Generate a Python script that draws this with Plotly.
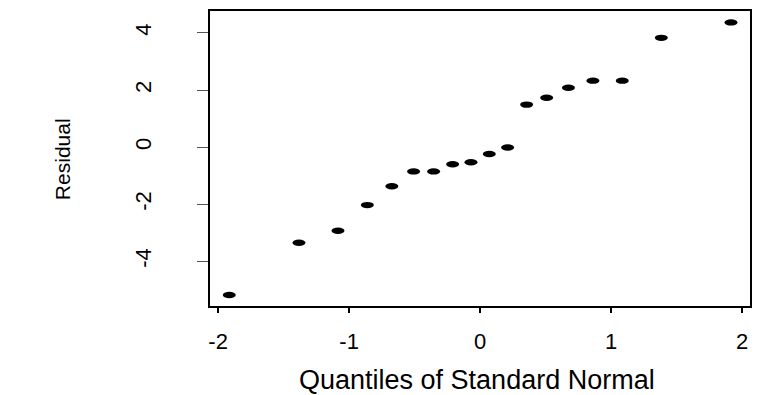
import plotly.graph_objects as go

# Theoretical quantiles of standard normal (x) and residuals (y)
quantiles = [-1.915, -1.383, -1.085, -0.861, -0.674, -0.508, -0.355, -0.210, -0.070,
             0.070, 0.210, 0.355, 0.508, 0.674, 0.861, 1.085, 1.383, 1.915]
residuals = [-5.18, -3.35, -2.93, -2.03, -1.37, -0.85, -0.85, -0.60, -0.53,
             -0.24, -0.01, 1.49, 1.73, 2.08, 2.33, 2.33, 3.83, 4.37]
x_ticks = [-2, -1, 0, 1, 2]
y_ticks = [-4, -2, 0, 2, 4]

FONT = "Liberation Sans, Arial, Helvetica, sans-serif"

fig = go.Figure()
fig.add_trace(go.Scatter(x=quantiles, y=residuals, mode="markers",
                         marker=dict(size=6, color="black", opacity=0),
                         showlegend=False, hoverinfo="x+y"))

# elliptical point markers (pixel-sized, anchored at data coordinates)
for qx, ry in zip(quantiles, residuals):
    fig.add_shape(type="circle", xref="x", yref="y",
                  xsizemode="pixel", ysizemode="pixel",
                  xanchor=qx, yanchor=ry,
                  x0=-6.5, x1=6.5, y0=-3.2, y1=3.2,
                  fillcolor="black", line=dict(color="black", width=0))

fig.update_layout(
    width=761, height=395,
    margin=dict(l=210, r=10, t=9, b=89),
    paper_bgcolor="white", plot_bgcolor="white",
    font=dict(family=FONT, color="black"),
    showlegend=False,
)
fig.update_xaxes(range=[-2.062, 2.06], tickvals=x_ticks, ticktext=[str(v) for v in x_ticks],
                 showgrid=False, zeroline=False, showline=True, mirror=True,
                 linecolor="black", linewidth=1.5, ticks="outside", ticklen=5,
                 tickcolor="black", tickwidth=1.5, tickfont=dict(size=22, family=FONT),
                 ticklabelstandoff=10)
fig.update_yaxes(range=[-5.565, 4.77], tickvals=y_ticks, ticktext=[str(v) for v in y_ticks],
                 showgrid=False, zeroline=False, showline=True, mirror=True,
                 linecolor="black", linewidth=1.5, ticks="outside", ticklen=11,
                 tickcolor="#555", tickwidth=1, tickangle=-90,
                 tickfont=dict(size=22, family=FONT), ticklabelstandoff=37)

fig.add_annotation(text="Quantiles of Standard Normal", xref="paper", yref="paper",
                   x=0.495, y=-0.25, xanchor="center", yanchor="middle",
                   showarrow=False, font=dict(size=27, family=FONT, color="black"))
fig.add_annotation(text="Residual", xref="paper", yref="paper",
                   x=-0.274, y=0.498, xanchor="center", yanchor="middle", textangle=-90,
                   showarrow=False, font=dict(size=21, family=FONT, color="black"))

fig.write_html("out.html")
